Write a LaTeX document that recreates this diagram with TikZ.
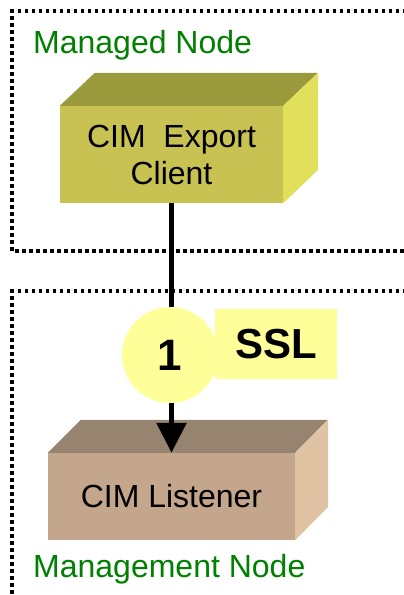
\documentclass[tikz,border=0pt]{standalone}
\usepackage{fontspec}
\setmainfont{Liberation Sans}
\usetikzlibrary{arrows.meta}
\definecolor{clientfront}{HTML}{C8C252}
\definecolor{clienttop}{HTML}{9A9A3C}
\definecolor{clientside}{HTML}{E0E05A}
\definecolor{listenerfront}{HTML}{C4A68D}
\definecolor{listenertop}{HTML}{968470}
\definecolor{listenerside}{HTML}{E0C3A3}
\definecolor{sslfill}{HTML}{FFFF99}
\definecolor{labelgreen}{HTML}{008000}
\begin{document}
\begin{tikzpicture}[x=1pt,y=-1pt,
  dotframe/.style={line width=3.5pt, dash pattern=on 3.5pt off 3.5pt},
  blockface/.style={draw=none, inner sep=0pt, align=center,
    font=\fontsize{32}{37}\selectfont},
  framelabel/.style={anchor=base west, inner sep=0pt, text=labelgreen,
    font=\fontsize{32}{37}\selectfont},
  boldtag/.style={fill=sslfill, inner sep=0pt, font=\bfseries\fontsize{44}{44}\selectfont},
  flow/.style={line width=5.5pt, -{Triangle[width=29pt,length=30pt]}}
]
\useasboundingbox (0,0) rectangle (404,595);

% dotted node frames
\draw[dotframe] (420,11) -| (12,251) -- (420,251);
\draw[dotframe] (420,291) -| (12,596.5) -- (420,596.5);

% frame labels
\node[framelabel] (managed) at (33,53) {Managed Node};
\node[framelabel] (management) at (33,577) {Management Node};

% export client block
\node[blockface, fill=clientfront, minimum width=223pt, minimum height=97pt]
  (client) at (171.5,154.5) {CIM\ \ Export\\Client};
\fill[clienttop] (client.north west) -- ++(35,-33) -- ++(223,0)
  -- (client.north east) -- cycle;
\fill[clientside] (client.north east) -- ++(35,-33) -- ++(0,97)
  -- (client.south east) -- cycle;

% listener block
\node[blockface, fill=listenerfront, minimum width=247pt, minimum height=87pt]
  (listener) at (171.5,496.5) {CIM Listener};
\fill[listenertop] (listener.north west) -- ++(33,-33) -- ++(247,0)
  -- (listener.north east) -- cycle;
\fill[listenerside] (listener.north east) -- ++(33,-33) -- ++(0,87)
  -- (listener.south east) -- cycle;

% indication flow
\draw[flow] (client.south) -- (listener.north);

% protocol tag and step number
\node[boldtag, font=\bfseries\fontsize{42}{42}\selectfont,
  minimum width=122pt, minimum height=70pt] (ssl) at (276,344) {SSL};
\node[boldtag, circle, minimum size=96pt] (stepone) at (170,355)
  {\raisebox{-2.5pt}{1}};
\end{tikzpicture}
\end{document}
